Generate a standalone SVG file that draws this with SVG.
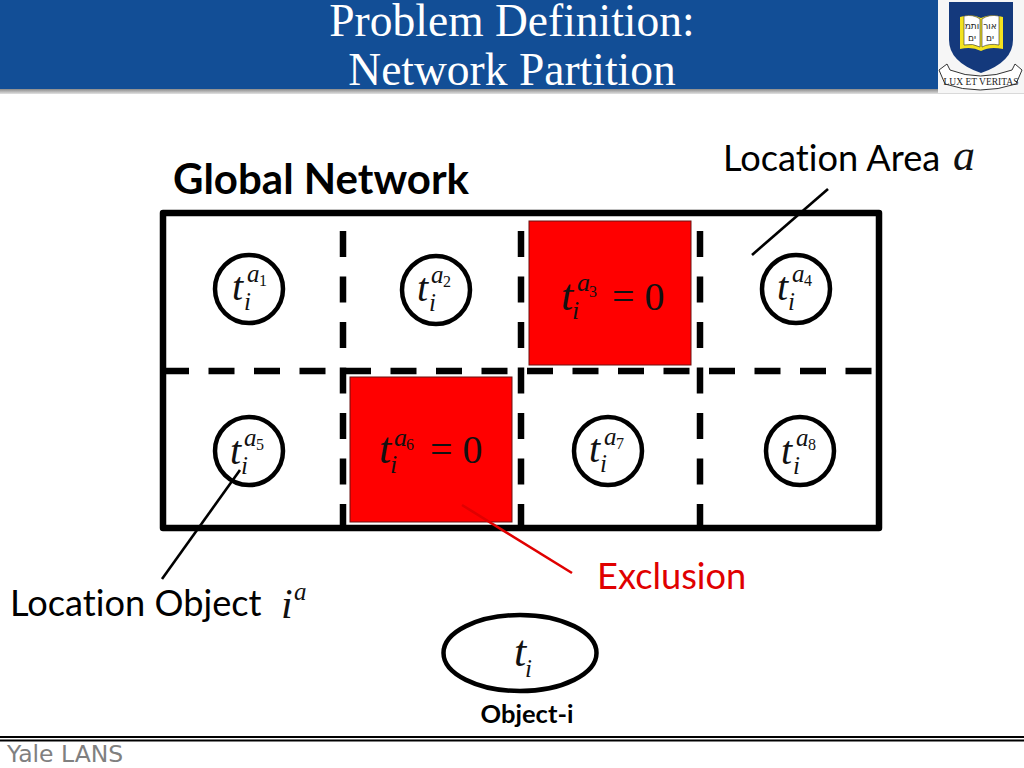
<svg xmlns="http://www.w3.org/2000/svg" width="1024" height="768" viewBox="0 0 1024 768">
<defs><linearGradient id="sh" x1="0" y1="0" x2="0" y2="1"><stop offset="0" stop-color="#8a8a8a"/><stop offset="1" stop-color="#e2e2e2"/></linearGradient></defs>
<style>
text{letter-spacing:.01px}
.title{font:45.500px "Liberation Serif",serif;fill:#fff;text-anchor:middle}
.lab{font:36.200px Lato,"Liberation Sans",sans-serif;fill:#000}
.m{font-family:"Liberation Serif",serif;font-style:italic;fill:#111}
.t{font-size:40px}.i{font-size:25px}.a{font-size:25px}
.bt{font-size:44px}.bi{font-size:26px}.ba{font-size:26px}
.n{font-family:"Liberation Serif",serif;font-size:16px;fill:#111}
.eq{font-family:"Liberation Serif",serif;font-size:40px;fill:#111}
.c{fill:#fff;stroke:#000;stroke-width:4.5}
.red{fill:#f00;stroke:#6b1010;stroke-width:1}
.dash{stroke:#000;stroke-width:6.5;fill:none;stroke-dasharray:26 19.5}
</style>
<rect width="1024" height="768" fill="#fff"/>
<g id="header">
<rect x="0" y="0" width="1024" height="89" fill="#124e96"/>
<rect x="0" y="89" width="1024" height="5" fill="url(#sh)"/>
<text class="title" x="512" y="36">Problem Definition:</text>
<text class="title" x="512" y="85">Network Partition</text>
</g>
<g id="crest">
<rect x="938" y="0" width="86" height="93" fill="#f6f6f6"/>
<path d="M949 2H1013V40Q1013 62 981 73Q949 62 949 40Z" fill="#14397c"/>
<path d="M960 17Q972 13 981 18Q990 13 1003 17V49Q990 46 981 51Q972 46 960 49Z" fill="#f3e21f"/>
<path d="M964 16Q973 14 980 19V47Q973 43 964 45ZM982 19Q989 14 999 16V45Q989 43 982 47Z" fill="#fff" stroke="#333" stroke-width=".6"/>
<text x="972" y="29" font-family="'DejaVu Sans',sans-serif" font-size="9" text-anchor="middle" fill="#222">ותמ</text>
<text x="990" y="29" font-family="'DejaVu Sans',sans-serif" font-size="9" text-anchor="middle" fill="#222">אור</text>
<text x="972" y="41" font-family="'DejaVu Sans',sans-serif" font-size="9" text-anchor="middle" fill="#222">ים</text>
<text x="990" y="41" font-family="'DejaVu Sans',sans-serif" font-size="9" text-anchor="middle" fill="#222">ים</text>
<path d="M939 70L947 64L950 70Q980 82 1012 70L1015 64L1022 70L1016 84Q980 96 945 84Z" fill="#fff" stroke="#333" stroke-width="1"/>
<text x="981" y="85" font-family="'Liberation Serif',serif" font-size="9.5" text-anchor="middle" fill="#222">LUX ET VERITAS</text>
</g>
<g id="title-global"><text x="173" y="194" font-family="Lato,'Liberation Sans',sans-serif" font-weight="700" font-size="42" fill="#000">Global Network</text></g>
<g id="grid">
<path d="M163 371H872M343 231V525M521 231V525M700 231V525" class="dash"/>
<rect id="frame" x="163" y="213" width="716" height="315" fill="none" stroke="#000" stroke-width="6.5" stroke-linejoin="round"/>
</g>
<g id="a1"><circle class="c" cx="249" cy="289" r="34"/><text class="m t" x="232" y="300">t</text><text class="m i" x="244" y="310">i</text><text class="m a" x="247" y="282">a</text><text class="n" x="259" y="286">1</text></g>
<g id="a2"><circle class="c" cx="436" cy="290" r="34"/><text class="m t" x="417" y="301">t</text><text class="m i" x="429" y="311">i</text><text class="m a" x="431" y="283">a</text><text class="n" x="443" y="287">2</text></g>
<g id="a3"><rect class="red" x="529" y="221" width="162" height="144"/><text class="m bt" x="561" y="310">t</text><text class="m bi" x="572" y="319">i</text><text class="m ba" x="577" y="291">a</text><text class="n" x="589" y="297">3</text><text class="eq" x="612" y="310">= 0</text></g>
<g id="a4"><circle class="c" cx="796" cy="289" r="34"/><text class="m t" x="777" y="300">t</text><text class="m i" x="788" y="310">i</text><text class="m a" x="792" y="282">a</text><text class="n" x="804" y="286">4</text></g>
<g id="a5"><circle class="c" cx="249" cy="451" r="34"/><text class="m t" x="230" y="464">t</text><text class="m i" x="241" y="474">i</text><text class="m a" x="244" y="446">a</text><text class="n" x="256" y="450">5</text></g>
<g id="a6"><rect class="red" x="350" y="377" width="162" height="145"/><text class="m bt" x="379" y="463">t</text><text class="m bi" x="390" y="473">i</text><text class="m ba" x="394" y="446">a</text><text class="n" x="406" y="450">6</text><text class="eq" x="430" y="463">= 0</text></g>
<g id="a7"><circle class="c" cx="608" cy="451" r="34"/><text class="m t" x="589" y="462">t</text><text class="m i" x="600" y="472">i</text><text class="m a" x="604" y="445">a</text><text class="n" x="616" y="449">7</text></g>
<g id="a8"><circle class="c" cx="800" cy="451" r="34"/><text class="m t" x="781" y="464">t</text><text class="m i" x="793" y="474">i</text><text class="m a" x="796" y="446">a</text><text class="n" x="808" y="450">8</text></g>
<g id="connectors">
<path d="M828 189L752 255" stroke="#000" stroke-width="2.6"/>
<path d="M240 470L162 579" stroke="#000" stroke-width="2.6"/>
<path d="M462 505L572 573" stroke="#e00000" stroke-width="2.6"/>
</g>
<g id="label-area"><text class="lab" x="723" y="171">Location Area</text><text class="m" x="953" y="170" font-size="44">a</text></g>
<g id="label-object"><text class="lab" x="10" y="616">Location Object</text><text class="m" x="281" y="618" font-size="42">i</text><text class="m a" x="294" y="600">a</text></g>
<g id="label-exclusion"><text class="lab" x="597" y="589" style="fill:#e00000">Exclusion</text></g>
<g id="object-i"><ellipse cx="520" cy="653" rx="76.500" ry="38" fill="#fff" stroke="#000" stroke-width="4.500"/><text class="m bt" x="514" y="666">t</text><text class="m i" x="525" y="677">i</text><text x="527" y="723" font-family="Lato,'Liberation Sans',sans-serif" font-weight="700" font-size="25.500" text-anchor="middle">Object-i</text></g>
<g id="footer">
<path d="M0 737H1024" stroke="#000" stroke-width="1.800"/><path d="M0 740.500H1024" stroke="#000" stroke-width="1.800"/>
<text x="7" y="762" font-family="'DejaVu Sans',sans-serif" font-size="23.500" fill="#808080">Yale LANS</text>
</g>
</svg>
